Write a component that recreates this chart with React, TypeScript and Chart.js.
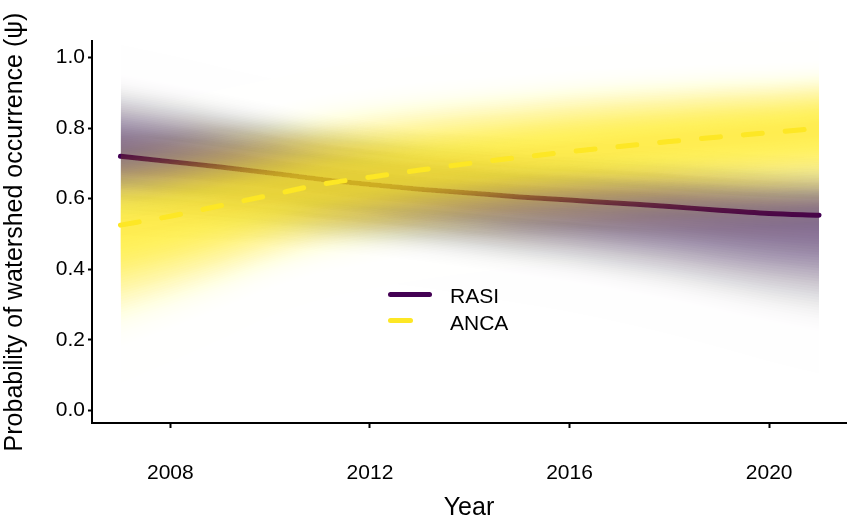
import { useEffect, useRef } from 'react';
import { Chart, registerables } from 'chart.js';

Chart.register(...registerables);

// values
const YEARS = [2007, 2008, 2009, 2010, 2011, 2012, 2013, 2014, 2015, 2016, 2017, 2018, 2019, 2020, 2021];
const RASI_MEAN = [0.72, 0.705, 0.69, 0.673, 0.655, 0.64, 0.627, 0.616, 0.605, 0.596, 0.587, 0.578, 0.567, 0.558, 0.553];
const ANCA_MEAN = [0.525, 0.55, 0.58, 0.61, 0.64, 0.661, 0.681, 0.7, 0.717, 0.733, 0.748, 0.762, 0.775, 0.787, 0.8];
// spread of the uncertainty ribbons below / above the mean (probability scale)
const RASI_SD_LO = [0.104, 0.101, 0.098, 0.095, 0.093, 0.092, 0.093, 0.097, 0.101, 0.106, 0.113, 0.121, 0.13, 0.14, 0.15];
const RASI_SD_HI = [0.106, 0.101, 0.095, 0.09, 0.085, 0.082, 0.079, 0.078, 0.078, 0.078, 0.078, 0.078, 0.078, 0.078, 0.078];
const ANCA_SD_LO = [0.15, 0.138, 0.127, 0.115, 0.109, 0.106, 0.104, 0.104, 0.104, 0.106, 0.108, 0.11, 0.113, 0.115, 0.115];
const ANCA_SD_HI = [0.108, 0.109, 0.11, 0.11, 0.11, 0.11, 0.108, 0.105, 0.102, 0.1, 0.097, 0.093, 0.09, 0.086, 0.083];
const X_TICKS = [2008, 2012, 2016, 2020];
const Y_TICKS = [0, 0.2, 0.4, 0.6, 0.8, 1.0];

const PURPLE = '68, 1, 84';
const YELLOW = '253, 231, 37';
const N_BANDS = 60;
const Z_MAX = 3;
const FONT = "'Liberation Sans', Arial, sans-serif";

// nested ribbons whose stacked opacity fades out from the mean line
function bandDatasets(mean: number[], lo: number[], hi: number[], rgb: string, peak: number, order: number) {
    const step = Z_MAX / N_BANDS;
    const fade = (t: number) => Math.exp(-Math.pow((t * t) / 2, 1.15));
    const slice = (k: number) => (k > N_BANDS ? 0 : peak * fade((k - 0.5) * step));
    const out: any[] = [];
    for (let k = 1; k <= N_BANDS; k++) {
        const alpha = 1 - (1 - slice(k)) / (1 - slice(k + 1));
        const z = k * step;
        const common = {
            type: 'line',
            order,
            borderWidth: 0,
            borderColor: 'rgba(0,0,0,0)',
            pointRadius: 0,
            cubicInterpolationMode: 'monotone',
        };
        out.push({ ...common, data: YEARS.map((x, i) => ({ x, y: mean[i] - z * lo[i] })), fill: false });
        out.push({
            ...common,
            data: YEARS.map((x, i) => ({ x, y: mean[i] + z * hi[i] })),
            fill: '-1',
            backgroundColor: `rgba(${rgb}, ${alpha.toFixed(5)})`,
        });
    }
    return out;
}

function WatershedChart() {
    const chartRef = useRef<HTMLCanvasElement | null>(null);
    const chartInstanceRef = useRef<Chart | null>(null);

    useEffect(() => {
        if (!chartRef.current) return;
        const ctx = chartRef.current.getContext('2d');
        if (!ctx) return;

        const datasets: any[] = [
            {
                type: 'line',
                label: 'ANCA',
                order: 0,
                data: YEARS.map((x, i) => ({ x, y: ANCA_MEAN[i] })),
                borderColor: 'rgb(253, 231, 37)',
                borderWidth: 5,
                borderDash: [19, 23],
                borderCapStyle: 'round',
                pointRadius: 0,
                cubicInterpolationMode: 'monotone',
                fill: false,
            },
            ...bandDatasets(ANCA_MEAN, ANCA_SD_LO, ANCA_SD_HI, YELLOW, 0.8, 1),
            {
                type: 'line',
                label: 'RASI',
                order: 2,
                data: YEARS.map((x, i) => ({ x, y: RASI_MEAN[i] })),
                borderColor: 'rgb(68, 1, 84)',
                borderWidth: 5,
                borderCapStyle: 'round',
                pointRadius: 0,
                cubicInterpolationMode: 'monotone',
                fill: false,
            },
            ...bandDatasets(RASI_MEAN, RASI_SD_LO, RASI_SD_HI, PURPLE, 0.64, 3),
        ];

        chartInstanceRef.current = new Chart(ctx, {
            type: 'line',
            data: { datasets },
            options: {
                animation: false,
                responsive: false,
                events: [],
                layout: { padding: { left: 0, top: 41, right: 5, bottom: 0 } },
                plugins: {
                    legend: { display: false },
                    tooltip: { enabled: false },
                },
                scales: {
                    x: {
                        type: 'linear',
                        min: 2006.43,
                        max: 2021.54,
                        afterBuildTicks: (s: any) => {
                            s.ticks = X_TICKS.map((v) => ({ value: v }));
                        },
                        afterFit: (s: any) => {
                            s.height = 100;
                        },
                        grid: { display: true, drawOnChartArea: false, tickLength: 5, tickWidth: 2, tickColor: '#000' },
                        border: { display: true, color: '#000', width: 2 },
                        ticks: {
                            color: '#000',
                            font: { family: FONT, size: 21 },
                            padding: 33,
                            maxRotation: 0,
                            autoSkip: false,
                            callback: (v: any) => String(v),
                        },
                        title: {
                            display: true,
                            text: 'Year',
                            color: '#000',
                            font: { family: FONT, size: 25 },
                            padding: { top: 0, bottom: 0 },
                        },
                    },
                    y: {
                        type: 'linear',
                        min: -0.036,
                        max: 1.047,
                        afterBuildTicks: (s: any) => {
                            s.ticks = Y_TICKS.map((v) => ({ value: v }));
                        },
                        afterFit: (s: any) => {
                            s.width = 92;
                        },
                        grid: { display: true, drawOnChartArea: false, tickLength: 4, tickWidth: 2, tickColor: '#000' },
                        border: { display: true, color: '#000', width: 2 },
                        ticks: {
                            color: '#000',
                            font: { family: FONT, size: 21 },
                            padding: 3,
                            callback: (v: any) => Number(v).toFixed(1),
                        },
                        title: {
                            display: true,
                            text: 'Probability of watershed occurrence (ψ)',
                            color: '#000',
                            font: { family: FONT, size: 25 },
                            padding: { top: 0, bottom: 0 },
                        },
                    },
                },
            },
        });

        return () => {
            if (chartInstanceRef.current) {
                chartInstanceRef.current.destroy();
                chartInstanceRef.current = null;
            }
        };
    }, []);

    const text = { position: 'absolute' as const, left: 450, fontFamily: FONT, fontSize: 21, lineHeight: '24px', color: '#000' };

    return (
        <div style={{ position: 'absolute', left: 0, top: 0, width: 851, height: 523, background: '#fff' }}>
            <canvas ref={chartRef} width={851} height={523} style={{ display: 'block' }}></canvas>
            <div style={{ position: 'absolute', left: 388, top: 291.5, width: 44, height: 5, borderRadius: 2.5, background: 'rgb(68, 1, 84)' }} />
            <div style={{ ...text, top: 283.8 }}>RASI</div>
            <div style={{ position: 'absolute', left: 388, top: 318.2, width: 25, height: 5, borderRadius: 2.5, background: 'rgb(253, 231, 37)' }} />
            <div style={{ ...text, top: 310.8 }}>ANCA</div>
        </div>
    );
}

export default function App() {
    return <WatershedChart />;
}
